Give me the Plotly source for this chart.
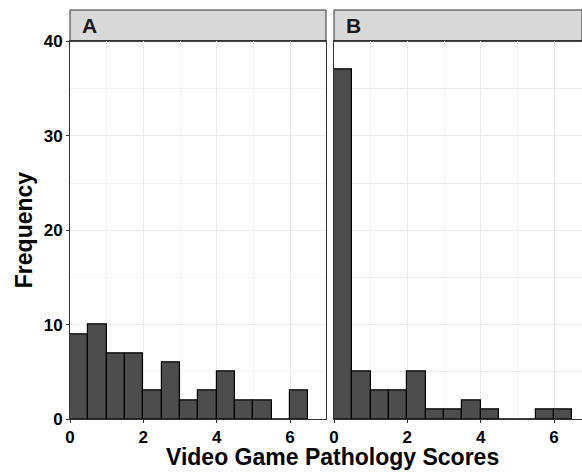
import plotly.graph_objects as go

bin_width = 0.5
bin_starts = [0, 0.5, 1, 1.5, 2, 2.5, 3, 3.5, 4, 4.5, 5, 5.5, 6]
counts_A = [9, 10, 7, 7, 3, 6, 2, 3, 5, 2, 2, 0, 3]
counts_B = [37, 5, 3, 3, 5, 1, 1, 2, 1, 0, 0, 1, 1]
panel_labels = ["A", "B"]
x_ticks = [0, 2, 4, 6]
y_ticks = [0, 10, 20, 30, 40]

centers = [s + bin_width / 2 for s in bin_starts]

W, H = 582, 473
ml, mr, mt, mb = 70, 0, 10, 54
pw = W - ml - mr
ph = H - mt - mb
ytop = (419.3 - 41.7) / ph  # top of panel (below strip)
domA = [0, 256 / pw]
domB = [264 / pw, 1.0]

fig = go.Figure()
for i, (cnt, ax) in enumerate([(counts_A, "x"), (counts_B, "x2")]):
    fig.add_trace(go.Bar(
        x=centers, y=cnt, width=bin_width,
        marker=dict(color="#4d4d4d", line=dict(color="black", width=1.2)),
        xaxis=ax, yaxis="y" if i == 0 else "y2", showlegend=False,
    ))

tickfont = dict(family="Liberation Sans, Arial", size=17, color="black", weight="bold")
common_x = dict(tickvals=x_ticks, tickfont=tickfont, ticks="outside", ticklen=3,
                tickcolor="#333333", showline=True, linecolor="#333333", mirror=True,
                linewidth=1, zeroline=False, showgrid=True, gridcolor="#ebebeb",
                minor=dict(showgrid=True, gridcolor="#f4f4f4", tickvals=[1, 3, 5]))
fig.update_layout(
    width=W, height=H, margin=dict(l=ml, r=mr, t=mt, b=mb),
    paper_bgcolor="white", plot_bgcolor="white", bargap=0,
    xaxis=dict(domain=domA, range=[0, 256 / 36.67], anchor="y", **common_x),
    xaxis2=dict(domain=domB, range=[0, 248 / 36.67], anchor="y2", **common_x),
    yaxis=dict(domain=[0, ytop], range=[0, 40], tickvals=y_ticks, tickfont=tickfont,
               ticks="outside", ticklen=3, tickcolor="#333333", showline=True,
               linecolor="#333333", mirror=True, zeroline=False, showgrid=True,
               gridcolor="#ebebeb",
               minor=dict(showgrid=True, gridcolor="#f4f4f4", tickvals=[5, 15, 25, 35])),
    yaxis2=dict(domain=[0, ytop], range=[0, 40], anchor="x2", showticklabels=False,
                showline=True, linecolor="#333333", mirror=True, zeroline=False,
                showgrid=True, gridcolor="#ebebeb",
                minor=dict(showgrid=True, gridcolor="#f4f4f4", tickvals=[5, 15, 25, 35])),
)

# facet strips
for dom, lab in zip([domA, domB], panel_labels):
    fig.add_shape(type="rect", xref="paper", yref="paper",
                  x0=dom[0], x1=dom[1], y0=ytop, y1=1.0,
                  fillcolor="#d9d9d9", line=dict(color="#333333", width=1), layer="below")
    fig.add_annotation(xref="paper", yref="paper", x=dom[0] + 10 / pw, y=(ytop + 1) / 2,
                       text="<b>%s</b>" % lab, showarrow=False, xanchor="left", yanchor="middle",
                       font=dict(family="Liberation Sans, Arial", size=21, color="#1a1a1a"))

fig.add_annotation(xref="paper", yref="paper", x=262.5 / pw, y=-53 / ph, yanchor="bottom",
                   xanchor="center",
                   text="<b>Video Game Pathology Scores</b>", showarrow=False,
                   font=dict(family="Liberation Sans, Arial", size=23, color="black"))
fig.add_annotation(xref="paper", yref="paper", x=-46 / pw, y=(ytop) / 2, xanchor="center",
                   text="<b>Frequency</b>", showarrow=False, textangle=-90,
                   font=dict(family="Liberation Sans, Arial", size=23, color="black"))

fig.write_html("out.html", config={"displayModeBar": False},
               post_script="document.body.style.margin='0';")
